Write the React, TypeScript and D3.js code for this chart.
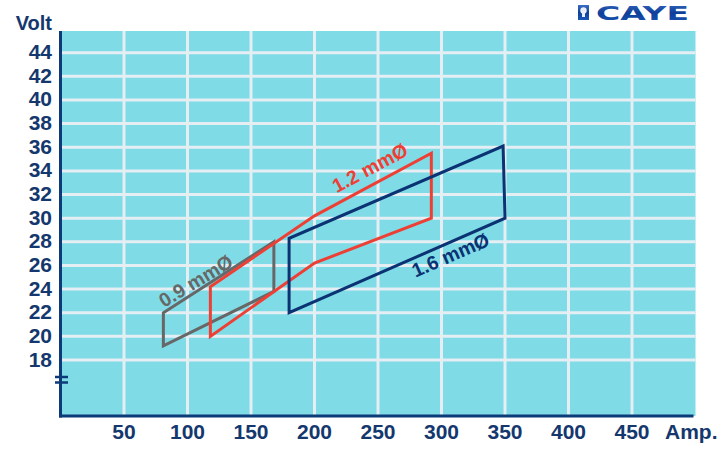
import React from "react";
import * as d3 from "d3";

const xTicks = [50, 100, 150, 200, 250, 300, 350, 400, 450];
const yTicks = [18, 20, 22, 24, 26, 28, 30, 32, 34, 36, 38, 40, 42, 44];

const wire09Amp = [81, 81, 168, 168];
const wire09Volt = [19.2, 22, 28, 23.8];
const wire12Amp = [118, 118, 200, 292, 292, 200];
const wire12Volt = [20, 24.2, 30.2, 35.5, 30, 26.2];
const wire16Amp = [180, 180, 348.5, 350];
const wire16Volt = [22, 28.3, 36.1, 30];

const labelNames = ["0.9 mmØ", "1.2 mmØ", "1.6 mmØ"];
const labelAmp = [81.5, 217.5, 279.5];
const labelVolt = [22.4, 32.1, 24.95];

const W = 727;
const H = 456;
const plotLeft = 60.5;
const plotRight = 695.5;
const plotTop = 31;
const plotBottom = 416;

const NAVY = "#0d3a78";
const TXT = "#14386e";
const BG = "#7fdbe6";
const GRID = "#e4eef3";
const GRAY = "#676767";
const RED = "#ee3f35";
const BLUE = "#0b3272";

export default function App() {
  const x = d3.scaleLinear().domain([0, 500]).range([plotLeft, plotRight]);
  const y = d3.scaleLinear().domain([18, 44]).range([360, 52.7]);

  const line = d3
    .line<[number, number]>()
    .x((d) => x(d[0]))
    .y((d) => y(d[1]))
    .curve(d3.curveLinearClosed);

  const poly = (a: number[], v: number[]) =>
    line(a.map((ai, i) => [ai, v[i]] as [number, number])) || "";

  const angle = (a0: number, v0: number, a1: number, v1: number) =>
    (Math.atan2(y(v1) - y(v0), x(a1) - x(a0)) * 180) / Math.PI;

  const labelAngles = [
    angle(wire09Amp[1], wire09Volt[1], wire09Amp[2], wire09Volt[2]) + 1.5,
    angle(wire12Amp[2], wire12Volt[2], wire12Amp[3], wire12Volt[3]),
    angle(wire16Amp[0], wire16Volt[0], wire16Amp[3], wire16Volt[3]),
  ];
  const labelColors = [GRAY, RED, BLUE];

  const font = "'Liberation Sans', Arial, sans-serif";

  return (
    <svg
      width={W}
      height={H}
      style={{ position: "absolute", left: 0, top: 0, display: "block", background: "#fff" }}
      fontFamily={font}
    >
      <defs>
        <linearGradient id="logoGrad" x1="0" y1="0" x2="0" y2="1">
          <stop offset="0" stopColor="#3a6fc4" />
          <stop offset="0.5" stopColor="#0e3e99" />
          <stop offset="1" stopColor="#1a58b8" />
        </linearGradient>
      </defs>
      {/* plot background */}
      <rect x={plotLeft} y={plotTop} width={plotRight - plotLeft} height={plotBottom - plotTop} fill={BG} />
      {/* grid */}
      {xTicks.map((t) => (
        <line key={"gx" + t} x1={x(t)} x2={x(t)} y1={plotTop} y2={plotBottom} stroke={GRID} strokeWidth={3} />
      ))}
      {yTicks.map((t) => (
        <line key={"gy" + t} x1={plotLeft} x2={plotRight} y1={y(t)} y2={y(t)} stroke={GRID} strokeWidth={3} />
      ))}
      {/* axes */}
      <line x1={plotLeft} x2={plotLeft} y1={plotTop} y2={plotBottom + 1.5} stroke={NAVY} strokeWidth={3} />
      <line x1={plotLeft - 1.5} x2={plotRight - 2} y1={plotBottom} y2={plotBottom} stroke={NAVY} strokeWidth={3} />
      {/* axis break */}
      <line x1={55} x2={68} y1={377} y2={377} stroke={NAVY} strokeWidth={2.5} />
      <line x1={55} x2={68} y1={382.5} y2={382.5} stroke={NAVY} strokeWidth={2.5} />
      {/* tick labels */}
      {yTicks.map((t) => (
        <text key={"ty" + t} x={52} y={y(t) + 6.5} textAnchor="end" fontSize={21} fontWeight="bold" fill={TXT}>
          {t}
        </text>
      ))}
      {xTicks.map((t) => (
        <text key={"tx" + t} x={x(t)} y={438.5} textAnchor="middle" fontSize={21} fontWeight="bold" fill={TXT}>
          {t}
        </text>
      ))}
      <text x={52} y={30} textAnchor="end" fontSize={20} fontWeight="bold" fill={TXT}>
        Volt
      </text>
      <text x={665} y={438.5} fontSize={21} fontWeight="bold" fill={TXT}>
        Amp.
      </text>
      {/* wire regions */}
      <path d={poly(wire09Amp, wire09Volt)} fill="none" stroke={GRAY} strokeWidth={3} strokeLinejoin="miter" />
      <path d={poly(wire12Amp, wire12Volt)} fill="none" stroke={RED} strokeWidth={3} strokeLinejoin="miter" />
      <path d={poly(wire16Amp, wire16Volt)} fill="none" stroke={BLUE} strokeWidth={3} strokeLinejoin="miter" />
      {labelNames.map((n, i) => (
        <text
          key={n}
          transform={`translate(${x(labelAmp[i])},${y(labelVolt[i])}) rotate(${labelAngles[i]})`}
          fontSize={19.5}
          fontWeight="bold"
          fill={labelColors[i]}
        >
          {n}
        </text>
      ))}
      {/* logo */}
      <g>
        <rect x={578} y={5} width={11} height={15} fill="url(#logoGrad)" />
        <circle cx={583.5} cy={10.5} r={3.2} fill="#e8eef8" />
        <rect x={582} y={13} width={3} height={4} fill="#e8eef8" />
        <text
          x={596}
          y={20}
          fontSize={20}
          fontWeight="bold"
          fontFamily="'DejaVu Sans', sans-serif"
          fill="url(#logoGrad)"
          textLength={93}
          lengthAdjust="spacingAndGlyphs"
        >
          CAYE
        </text>
      </g>
    </svg>
  );
}
